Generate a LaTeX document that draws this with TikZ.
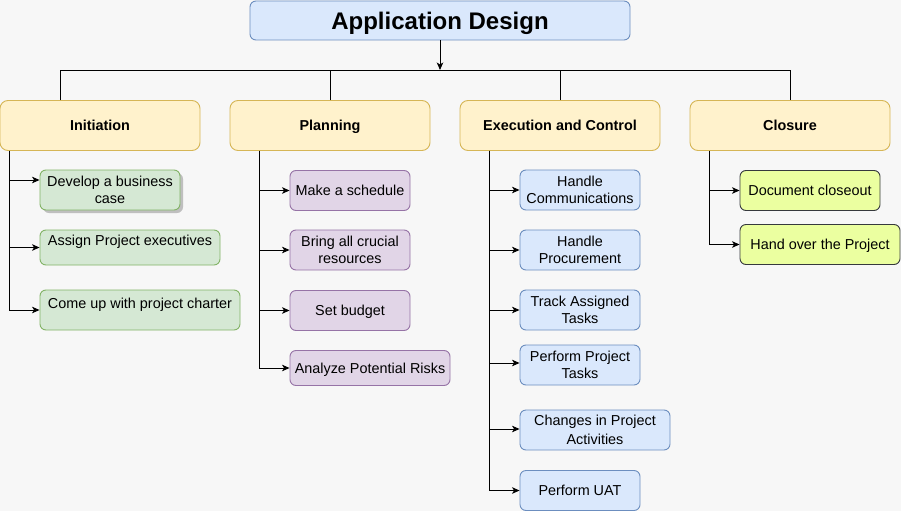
\documentclass[tikz,border=0pt]{standalone}
\usepackage{fontspec}
\setmainfont{Liberation Sans}
\usetikzlibrary{arrows.meta,shadows}
\definecolor{bg}{HTML}{F7F7F7}
\definecolor{bluef}{HTML}{DAE8FC}\definecolor{blues}{HTML}{6C8EBF}
\definecolor{yelf}{HTML}{FFF2CC}\definecolor{yels}{HTML}{D6B656}
\definecolor{grnf}{HTML}{D5E8D4}\definecolor{grns}{HTML}{82B366}
\definecolor{purf}{HTML}{E1D5E7}\definecolor{purs}{HTML}{9673A6}
\definecolor{limf}{HTML}{EBFFA0}\definecolor{lims}{HTML}{36393D}
\tikzset{
  box/.style={rectangle, rounded corners=6pt, line width=0.9pt, inner sep=2pt, align=center,
    font=\fontsize{14.4}{17}\selectfont},
  oneline/.style={text height=10.3pt, text depth=0pt},
  titlebox/.style={box, fill=bluef, draw=blues, font=\fontsize{24}{28}\selectfont\bfseries,
    minimum width=380pt, minimum height=39pt, text height=17.2pt, text depth=0pt},
  phasebox/.style={box, oneline, fill=yelf, draw=yels, font=\fontsize{14.4}{17}\selectfont\bfseries,
    minimum width=200pt, minimum height=50pt, rounded corners=8pt},
  gbox/.style={box, fill=grnf, draw=grns},
  pbox/.style={box, fill=purf, draw=purs},
  bbox/.style={box, fill=bluef, draw=blues},
  lbox/.style={box, fill=limf, draw=lims},
  txt/.style={inner sep=0pt, align=center, oneline, font=\fontsize{14.4}{17}\selectfont},
  conn/.style={draw=black, line width=1pt},
  arr/.style={conn, -{Stealth[length=7.5pt,width=6.5pt,inset=2pt]}},
}
\begin{document}
\begin{tikzpicture}[x=1pt,y=-1pt]
\fill[bg] (0,0) rectangle (901,511);
\useasboundingbox (0,0) rectangle (901,511);

% title
\node[titlebox] (title) at (440,20.5) {Application Design};
\coordinate (bus) at (440,70);

% phases
\node[phasebox] (init) at (100,125.5) {Initiation};
\node[phasebox] (plan) at (330,125.5) {Planning};
\node[phasebox] (exec) at (560,125.5) {Execution and Control};
\node[phasebox] (clos) at (790,125.5) {Closure};

\draw[arr] (title.south) -- (bus);
\draw[conn] ([xshift=-40pt]init.north) |- (clos.north |- bus) -- (clos.north);
\draw[conn] (plan.north) -- (plan.north |- bus);
\draw[conn] (exec.north) -- (exec.north |- bus);

% initiation children
\node[gbox, minimum width=140pt, minimum height=40pt,
  drop shadow={shadow xshift=3pt, shadow yshift=-3pt, fill=black!25, opacity=1}]
  (dev) at (110,190) {Develop a business\\case};
\node[gbox, minimum width=180pt, minimum height=35pt] (asg) at (130,247.5) {};
\node[txt] (asgT) at (130,240.5) {Assign Project executives};
\node[gbox, minimum width=200pt, minimum height=40pt] (cup) at (140,310) {};
\node[txt] (cupT) at (140,303) {Come up with project charter};

\draw[arr] ([xshift=10pt]init.south west) |- ([yshift=10pt]dev.west);
\draw[arr] ([xshift=10pt]init.south west) |- (asg.west);
\draw[arr] ([xshift=10pt]init.south west) |- (cup.west);

% planning children
\node[pbox, oneline, minimum width=120pt, minimum height=40pt] (sch) at (350,190.5) {Make a schedule};
\node[pbox, minimum width=120pt, minimum height=40pt] (res) at (350,250) {Bring all crucial\\resources};
\node[pbox, oneline, minimum width=120pt, minimum height=40pt] (bud) at (350,310.5) {Set budget};
\node[pbox, oneline, minimum width=160pt, minimum height=35pt] (risk) at (370,368) {Analyze Potential Risks};

\draw[arr] ([xshift=30pt]plan.south west) |- (sch.west);
\draw[arr] ([xshift=30pt]plan.south west) |- (res.west);
\draw[arr] ([xshift=30pt]plan.south west) |- (bud.west);
\draw[arr] ([xshift=30pt]plan.south west) |- (risk.west);

% execution children
\node[bbox, minimum width=120pt, minimum height=40pt] (com) at (580,190) {Handle\\Communications};
\node[bbox, minimum width=120pt, minimum height=40pt] (pro) at (580,250) {Handle\\Procurement};
\node[bbox, minimum width=120pt, minimum height=40pt] (trk) at (580,310) {Track Assigned\\Tasks};
\node[bbox, minimum width=120pt, minimum height=40pt] (ppt) at (580,365) {Perform Project\\Tasks};
\node[bbox, minimum width=150pt, minimum height=40pt,
  font=\fontsize{14.4}{19.5}\selectfont] (chg) at (595,430) {Changes in Project\\Activities};
\node[bbox, oneline, minimum width=120pt, minimum height=40pt] (uat) at (580,490.5) {Perform UAT};

\draw[arr] ([xshift=30pt]exec.south west) |- (com.west);
\draw[arr] ([xshift=30pt]exec.south west) |- (pro.west);
\draw[arr] ([xshift=30pt]exec.south west) |- (trk.west);
\draw[arr] ([xshift=30pt]exec.south west) |- ([yshift=2pt]ppt.west);
\draw[arr] ([xshift=30pt]exec.south west) |- ([yshift=1pt]chg.west);
\draw[arr] ([xshift=30pt]exec.south west) |- (uat.west);

% closure children
\node[lbox, oneline, minimum width=140pt, minimum height=40pt] (doc) at (810,190.5) {Document closeout};
\node[lbox, oneline, minimum width=160pt, minimum height=40pt] (hand) at (820,244.5) {Hand over the Project};

\draw[arr] ([xshift=20pt]clos.south west) |- (doc.west);
\draw[arr] ([xshift=20pt]clos.south west) |- (hand.west);
\end{tikzpicture}
\end{document}
